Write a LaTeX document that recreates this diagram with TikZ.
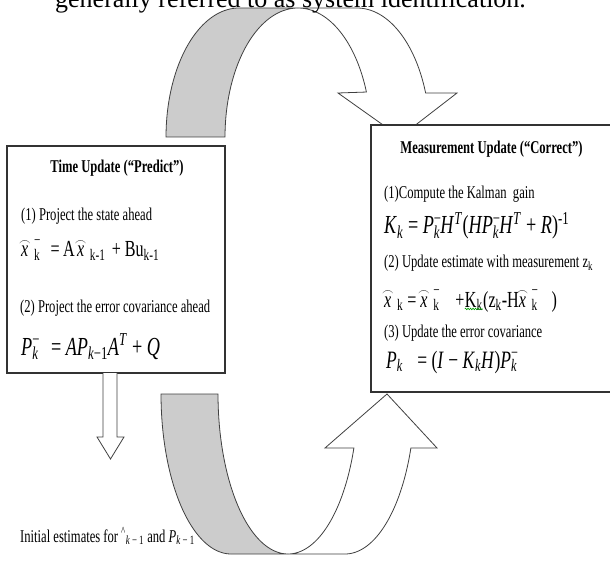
\documentclass[tikz,border=0pt]{standalone}
\usepackage{fontspec}
\usepackage{graphicx}
\setmainfont{Liberation Serif}
\newfontfamily\cnd[FakeStretch=0.7]{Liberation Serif}
\usetikzlibrary{decorations.pathmorphing}
\newcommand{\sbs}[1]{\textsubscript{#1}}
\newcommand{\sps}[1]{\textsuperscript{#1}}
\newcommand{\bth}[2]{\makebox[0pt][l]{\textsuperscript{#1}}\textsubscript{#2}}
\newcommand{\xh}{\ooalign{\textit{x}\cr\hidewidth\raisebox{0.52em}{\resizebox{0.5em}{0.2em}{$\frown$}}\hidewidth\cr}}
\begin{document}
\begin{tikzpicture}[x=1pt,y=-1pt,line join=miter,
  boxst/.style={draw=black!80, line width=1.2pt, fill=white, rectangle, inner sep=0pt},
  shapeline/.style={draw=black!75, line width=0.8pt},
  txt/.style={anchor=base west, inner sep=0pt, font=\cnd\fontsize{18}{20}\selectfont},
  ttl/.style={anchor=base, inner sep=0pt, font=\cnd\bfseries\fontsize{18}{20}\selectfont},
  eqr/.style={anchor=base west, inner sep=0pt, font=\cnd\fontsize{23}{25}\selectfont},
  eqn/.style={anchor=base west, inner sep=0pt, font=\cnd\fontsize{26}{28}\selectfont}]
\useasboundingbox (0,0) rectangle (610,561);
\clip (0,0) rectangle (610,561);
% top curved arrow
\filldraw[shapeline, fill=gray!40] (166,137) -- plot[domain=180:270, samples=40, variable=\t] ({239+73*cos(\t)},{137+129*sin(\t)}) -- (298,8) -- plot[domain=270:180, samples=40, variable=\t] ({298+73*cos(\t)},{137+129*sin(\t)}) -- cycle;
\filldraw[shapeline, fill=white] (298,8) -- plot[domain=270:339.6, samples=40, variable=\t] ({298+73*cos(\t)},{137+129*sin(\t)}) -- (338,93) -- (400,137) -- (457,93) -- plot[domain=340.06:270, samples=40, variable=\t] ({357+73*cos(\t)},{137+129*sin(\t)}) -- cycle;
% bottom curved arrow
\filldraw[shapeline, fill=gray!40] (161,394) -- plot[domain=180:90, samples=40, variable=\t] ({231+70*cos(\t)},{394+160*sin(\t)}) -- plot[domain=90:180, samples=40, variable=\t] ({288+70*cos(\t)},{394+160*sin(\t)}) -- cycle;
\filldraw[shapeline, fill=white] plot[domain=90:19.7, samples=40, variable=\t] ({288+70*cos(\t)},{394+160*sin(\t)}) -- (325,448) -- (387,394) -- (437,448) -- plot[domain=19.7:90, samples=40, variable=\t] ({345+70*cos(\t)},{394+160*sin(\t)}) -- cycle;
% boxes
\node[boxst, minimum width=218pt, minimum height=227pt] (tu) at (116,259.5) {};
\node[boxst, minimum width=243pt, minimum height=267pt] (mu) at (492.5,258.5) {};
% down arrow
\filldraw[shapeline, fill=white] (103,373) -- (103,437) -- (97,437) -- (110.5,459) -- (124,437) -- (117,437) -- (117,373);
% header
\node[anchor=base west, inner sep=0pt, font=\fontsize{26}{28}\selectfont] (hdr) at (55,8) {generally referred to as system identification.};
% left box text
\node[ttl] (tut) at (117,173) {Time Update (“Predict”)};
\node[txt] (t1) at (21,221) {(1) Project the state ahead};
\node[eqr] (e1) at (21,257) {\xh\hspace{0.25em}\bth{\raisebox{0.15em}{−}}{k}\hspace{0.45em}=\hspace{0.15em}A\hspace{0.1em}\xh\hspace{0.25em}\sbs{k-1}\hspace{0.1em} + Bu\sbs{k-1}};
\node[txt] (t2) at (20,312) {(2) Project the error covariance ahead};
\node[eqn] (e2) at (21,355) {\textit{P}\bth{−}{\textit{k}}\hspace{0.3em} = \textit{AP}\sbs{\textit{k}−1}\textit{A}\sps{\textit{T}} + \textit{Q}};
% right box text
\node[ttl] (mut) at (491.5,154) {Measurement Update (“Correct”)};
\node[txt] (m1) at (384,199) {(1)Compute the Kalman\ \ gain};
\node[eqn] (e3) at (384,234) {\textit{K}\sbs{\textit{k}} = \textit{P}\bth{−}{\textit{k}}\textit{H}\sps{\textit{T}}(\textit{HP}\bth{−}{\textit{k}}\textit{H}\sps{\textit{T}} + \textit{R})\sps{-1}};
\node[txt] (m2) at (384,268) {(2) Update estimate with measurement z\sbs{k}};
\node[eqr] (e4a) at (384,307) {\xh\hspace{0.25em}\sbs{k} = \xh\hspace{0.25em}\bth{\raisebox{0.15em}{−}}{k}\hspace{0.7em}+\hspace{0.25em}};
\node[eqr] (kk) at (e4a.base east) {K\sbs{k}};
\node[eqr] (e4c) at (kk.base east) {(z\sbs{k}-H\xh\hspace{0.25em}\bth{\raisebox{0.15em}{−}}{k}\hspace{0.6em})};
\draw[green!60!black, line width=0.6pt, decorate, decoration={snake, amplitude=0.8pt, segment length=2.5pt}] ([yshift=2pt]kk.south west) -- ([yshift=2pt]kk.south east);
\node[txt] (m3) at (384,337) {(3) Update the error covariance};
\node[eqn, font=\cnd\fontsize{25}{27}\selectfont] (e5) at (386,368) {\textit{P}\sbs{\textit{k}}\hspace{0.4em} = (\textit{I} − \textit{K}\sbs{\textit{k}}\textit{H})\textit{P}\bth{−}{\textit{k}}};
% bottom text
\node[txt] (ini) at (20,542) {Initial estimates for\,\sps{\^{}}\sbs{\textit{k} − 1} and \textit{P}\sbs{\textit{k} − 1}};
\end{tikzpicture}
\end{document}
